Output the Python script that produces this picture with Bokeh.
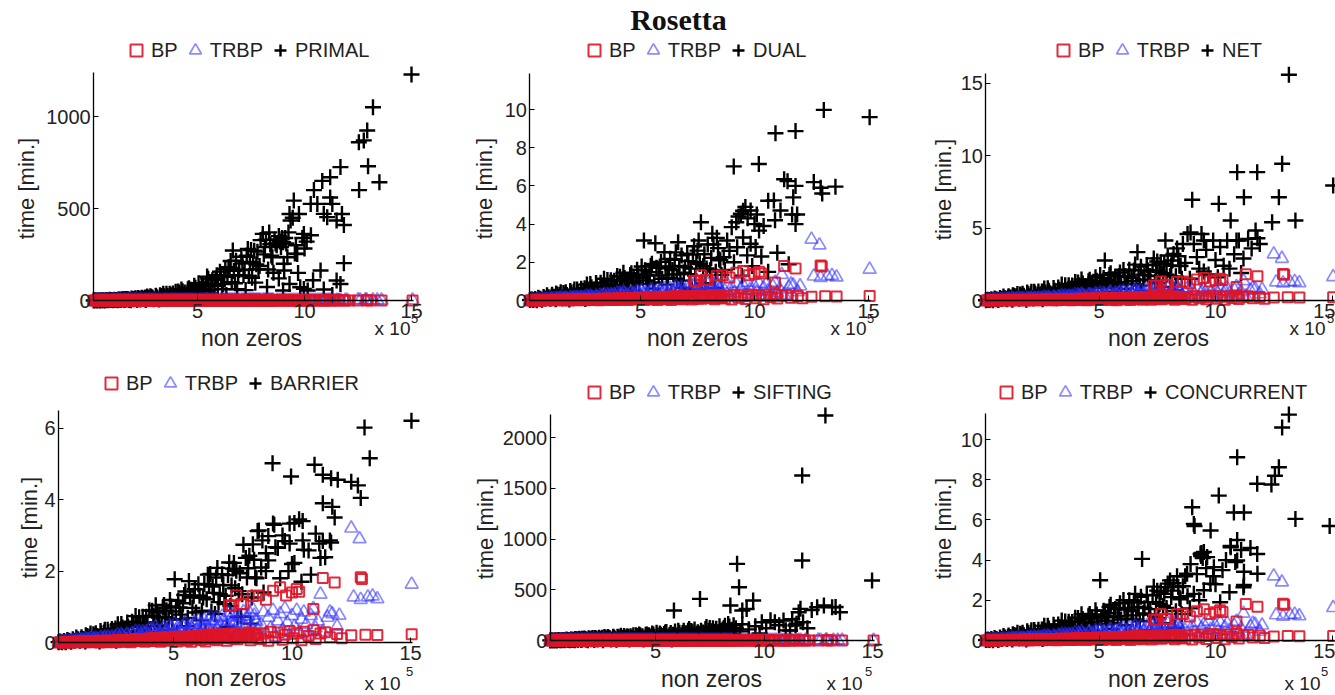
import math
from bokeh.plotting import figure
from bokeh.layouts import column, row
from bokeh.models import FixedTicker, Label, Legend, LegendItem, Range1d
from bokeh.embed import file_html
from bokeh.resources import INLINE

# ---------------- data (non zeros in units of 1e5, times in minutes) ----------------
nnz = [0.15, 0.22, 0.30, 0.38, 0.45, 0.52, 0.60, 0.68, 0.75, 0.82, 0.90, 0.97,
       1.05, 1.12, 1.20, 1.28, 1.35, 1.42, 1.50, 1.58, 1.65, 1.72, 1.80, 1.88, 1.95,
       2.03, 2.10, 2.18, 2.25, 2.33, 2.40, 2.50, 2.58, 2.65, 2.75, 2.85, 2.95,
       3.05, 3.12, 3.20, 3.30, 3.40, 3.50, 3.60, 3.70, 3.80, 3.90, 3.98,
       4.05, 4.15, 4.25, 4.35, 4.45, 4.55, 4.65, 4.75, 4.85, 4.95,
       5.05, 5.15, 5.25, 5.35, 5.45, 5.55, 5.65, 5.75, 5.85, 5.95,
       6.05, 6.15, 6.25, 6.35, 6.45, 6.55, 6.65, 6.75, 6.85, 6.95,
       7.05, 7.15, 7.25, 7.35, 7.45, 7.55, 7.65, 7.75, 7.85, 7.95,
       8.05, 8.15, 8.25, 8.35, 8.45, 8.55,
       1.10, 1.30, 1.45, 1.62, 1.77, 1.92,
       2.07, 2.22, 2.38, 2.55, 2.70, 2.80, 2.90,
       3.08, 3.25, 3.45, 3.55, 3.65, 3.75, 3.85, 3.95,
       4.10, 4.20, 4.30, 4.40, 4.50, 4.60, 4.70, 4.80, 4.90,
       5.10, 5.20, 5.30, 5.40, 5.50, 5.60, 5.70, 5.80, 5.90,
       6.10, 6.20, 6.30, 6.40, 6.50, 6.60, 6.70, 6.80, 6.90,
       7.10, 7.20, 7.30, 7.40, 7.50, 7.60, 7.70, 7.80, 7.90,
       8.10, 8.20, 8.30, 8.40, 8.50]

bp_time = [0.00, 0.01, 0.00, 0.01, 0.00, 0.01, 0.01, 0.00, 0.02, 0.01, 0.03, 0.02,
           0.01, 0.03, 0.02, 0.01, 0.03, 0.02, 0.04, 0.01, 0.03, 0.04, 0.02, 0.00, 0.04,
           0.03, 0.05, 0.01, 0.04, 0.02, 0.05, 0.04, 0.01, 0.07, 0.03, 0.06, 0.02,
           0.07, 0.04, 0.01, 0.06, 0.10, 0.04, 0.06, 0.09, 0.02, 0.06, 0.11,
           0.04, 0.10, 0.13, 0.06, 0.02, 0.12, 0.09, 0.05, 0.14, 0.08,
           0.16, 0.03, 0.12, 0.08, 0.16, 0.05, 0.11, 0.02, 0.15, 0.10,
           0.19, 0.07, 0.15, 0.03, 0.12, 0.23, 0.18, 0.10, 0.06, 0.16,
           0.23, 0.13, 0.05, 1.04, 1.02, 0.11, 1.32, 0.17, 1.08, 1.07,
           0.15, 0.25, 0.06, 1.30, 0.21, 0.13,
           0.02, 0.03, 0.03, 0.04, 0.03, 0.05,
           0.04, 0.05, 0.04, 0.05, 0.05, 0.07, 0.04,
           0.06, 0.08, 0.06, 0.09, 0.04, 0.07, 0.09, 0.04,
           0.11, 0.07, 0.10, 0.09, 0.06, 0.13, 0.11, 0.08, 0.12,
           0.11, 0.14, 0.09, 0.13, 0.17, 0.08, 0.15, 0.12, 0.18,
           0.15, 0.11, 0.19, 0.14, 0.19, 0.10, 0.16, 0.22, 0.13,
           0.19, 0.16, 0.23, 0.12, 0.25, 0.18, 0.09, 0.23, 0.16,
           0.21, 0.28, 0.14, 0.26, 0.20]

trbp_time = [0.01, 0.02, 0.01, 0.02, 0.00, 0.04, 0.02, 0.01, 0.05, 0.03, 0.07, 0.05,
             0.02, 0.08, 0.05, 0.02, 0.08, 0.05, 0.12, 0.03, 0.08, 0.12, 0.06, 0.01, 0.11,
             0.08, 0.15, 0.03, 0.12, 0.06, 0.16, 0.11, 0.02, 0.22, 0.09, 0.18, 0.06,
             0.23, 0.13, 0.04, 0.21, 0.31, 0.11, 0.20, 0.30, 0.07, 0.19, 0.38,
             0.12, 0.31, 0.43, 0.20, 0.07, 0.39, 0.28, 0.14, 0.47, 0.25,
             0.51, 0.10, 0.38, 0.25, 0.51, 0.17, 0.36, 0.06, 0.50, 0.32,
             0.62, 0.24, 0.48, 0.11, 0.40, 0.73, 0.60, 0.30, 0.19, 0.51,
             0.73, 0.41, 0.17, 0.84, 0.59, 0.34, 0.74, 0.53, 0.27, 0.86,
             0.45, 0.73, 0.18, 0.93, 0.61, 0.38,
             0.05, 0.10, 0.08, 0.10, 0.08, 0.14,
             0.12, 0.15, 0.11, 0.16, 0.14, 0.22, 0.13,
             0.18, 0.25, 0.19, 0.30, 0.14, 0.24, 0.30, 0.12,
             0.37, 0.23, 0.34, 0.29, 0.18, 0.41, 0.35, 0.26, 0.39,
             0.33, 0.45, 0.30, 0.42, 0.55, 0.27, 0.48, 0.37, 0.57,
             0.50, 0.34, 0.63, 0.46, 0.62, 0.33, 0.53, 0.69, 0.43,
             0.61, 0.49, 0.71, 0.38, 0.77, 0.56, 0.26, 0.70, 0.49,
             0.64, 0.84, 0.42, 0.76, 0.58]

primal_time = [0.3, 0.8, 0.4, 1.1, 0.2, 2.0, 1.2, 0.5, 2.4, 1.3, 3.6, 2.3,
               1.3, 4.5, 3.1, 0.9, 5.4, 3.3, 8.0, 2.2, 6.0, 8.8, 4.2, 1.1, 8.7,
               6.2, 12.9, 3.0, 11.2, 6.1, 15.6, 11.0, 2.1, 22.4, 9.6, 19.2, 6.8,
               26.2, 15.3, 4.9, 24.2, 36.8, 13.7, 24.7, 36.9, 9.1, 23.9, 47.1,
               15.6, 42.0, 60.0, 28.8, 10.2, 61.2, 45.6, 24.0, 79.8, 44.0,
               93.5, 20.1, 75.3, 51.5, 130.0, 38.6, 81.3, 14.3, 119.6, 78.3,
               156.8, 61.3, 129.5, 29.3, 181.0, 215.0, 272.0, 94.0, 61.3, 165.8,
               238.0, 136.8, 56.5, 280.0, 210.0, 123.8, 270.7, 196.5, 170.0, 328.2,
               362.0, 290.0, 73.0, 370.0, 244.0, 151.0,
               2.9, 6.1, 5.3, 7.6, 6.1, 10.8,
               9.8, 14.0, 10.9, 16.6, 15.1, 23.6, 14.5,
               20.8, 28.5, 22.7, 36.1, 16.9, 28.9, 37.4, 14.7,
               48.6, 31.9, 49.6, 42.9, 28.0, 66.6, 58.5, 45.1, 68.8,
               63.0, 88.4, 61.0, 88.5, 118.8, 59.4, 111.2, 87.6, 137.7,
               127.5, 90.0, 171.0, 130.0, 178.5, 99.0, 161.0, 216.0, 137.5,
               201.8, 166.8, 244.0, 133.2, 274.5, 204.0, 96.9, 265.6, 187.6,
               250.6, 330.0, 168.8, 306.0, 235.0]

dual_time = [0.02, 0.06, 0.03, 0.08, 0.01, 0.15, 0.09, 0.04, 0.18, 0.10, 0.27, 0.17,
             0.09, 0.30, 0.19, 0.06, 0.31, 0.18, 0.43, 0.11, 0.30, 0.43, 0.20, 0.05, 0.40,
             0.28, 0.57, 0.13, 0.46, 0.24, 0.62, 0.43, 0.08, 0.84, 0.36, 0.70, 0.24,
             0.92, 0.52, 0.16, 0.77, 1.14, 0.41, 0.73, 1.06, 0.26, 0.66, 1.28,
             0.41, 1.06, 1.45, 0.67, 0.23, 1.33, 0.97, 0.50, 1.61, 0.87,
             1.78, 3.14, 1.32, 0.87, 1.80, 0.62, 3.00, 0.22, 1.78, 1.14,
             2.53, 0.83, 1.68, 0.37, 1.36, 2.52, 3.05, 1.04, 0.66, 1.74,
             2.45, 1.38, 0.56, 2.84, 2.02, 3.14, 4.10, 1.80, 0.91, 2.93,
             1.58, 3.50, 0.64, 3.28, 2.16, 1.34,
             0.20, 0.36, 0.29, 0.39, 0.29, 0.50,
             0.44, 0.58, 0.43, 0.64, 0.56, 0.86, 0.53,
             0.72, 0.93, 0.69, 1.07, 0.49, 0.82, 1.04, 0.40,
             1.25, 0.79, 1.18, 0.98, 0.62, 1.43, 1.22, 0.92, 1.37,
             1.17, 1.58, 1.05, 1.48, 1.92, 0.94, 1.71, 1.31, 2.02,
             1.76, 1.19, 2.18, 1.60, 2.13, 1.14, 1.81, 2.36, 1.46,
             2.06, 1.67, 2.40, 1.29, 2.61, 1.91, 0.89, 2.42, 1.68,
             2.23, 2.94, 1.51, 2.74, 2.11]

net_time = [0.02, 0.05, 0.03, 0.08, 0.01, 0.14, 0.09, 0.04, 0.17, 0.10, 0.27, 0.16,
            0.09, 0.30, 0.20, 0.06, 0.32, 0.19, 0.45, 0.12, 0.32, 0.47, 0.22, 0.06, 0.44,
            0.30, 0.60, 0.13, 0.48, 0.25, 0.63, 0.43, 0.08, 0.83, 0.35, 0.67, 0.23,
            0.87, 0.50, 0.15, 0.75, 1.11, 0.40, 0.71, 1.05, 0.25, 0.66, 1.28,
            0.41, 1.06, 1.45, 0.67, 0.23, 1.33, 0.97, 0.50, 1.61, 0.87,
            1.77, 0.36, 2.76, 0.86, 1.76, 0.60, 1.22, 0.21, 1.70, 1.09,
            2.11, 0.80, 1.63, 0.36, 1.34, 2.48, 3.34, 1.03, 0.66, 1.74,
            2.46, 1.40, 0.57, 2.91, 2.08, 1.21, 2.63, 1.89, 4.15, 3.11,
            1.68, 2.76, 0.70, 3.60, 2.40, 1.50,
            0.20, 0.37, 0.30, 0.41, 0.32, 0.55,
            0.47, 0.61, 0.44, 0.63, 0.55, 0.84, 0.50,
            0.69, 0.89, 0.68, 1.05, 0.48, 0.81, 1.03, 0.40,
            1.25, 0.79, 1.18, 0.98, 0.62, 1.43, 1.22, 0.92, 1.37,
            1.17, 1.56, 1.04, 1.45, 1.88, 0.91, 1.65, 1.27, 1.94,
            1.69, 1.15, 2.12, 1.56, 2.08, 1.13, 1.79, 2.34, 1.46,
            2.07, 1.69, 2.45, 1.32, 2.70, 1.99, 0.94, 2.54, 1.78,
            2.40, 3.21, 1.67, 3.06, 2.38]

barrier_time = [0.01, 0.03, 0.01, 0.04, 0.01, 0.07, 0.05, 0.02, 0.09, 0.05, 0.14, 0.09,
                0.05, 0.15, 0.10, 0.03, 0.18, 0.10, 0.25, 0.07, 0.18, 0.26, 0.12, 0.03, 0.26,
                0.18, 0.36, 0.08, 0.29, 0.15, 0.38, 0.26, 0.05, 0.51, 0.21, 0.42, 0.15,
                0.56, 0.32, 0.10, 0.49, 0.74, 0.27, 0.49, 0.72, 0.18, 0.46, 0.90,
                0.29, 0.75, 1.04, 0.48, 0.17, 0.97, 0.71, 0.36, 1.19, 0.64,
                1.77, 0.27, 0.98, 0.65, 1.33, 0.46, 1.72, 0.16, 1.31, 0.84,
                1.63, 0.62, 1.26, 0.28, 1.90, 1.92, 1.57, 0.80, 2.09, 1.35,
                1.91, 1.08, 0.44, 2.24, 1.60, 2.23, 2.01, 1.44, 0.73, 2.74,
                2.37, 2.08, 0.53, 2.75, 1.82, 3.12,
                0.10, 0.20, 0.17, 0.23, 0.18, 0.32,
                0.28, 0.36, 0.27, 0.39, 0.34, 0.52, 0.32,
                0.44, 0.58, 0.46, 0.71, 0.33, 0.56, 0.72, 0.28,
                0.89, 0.56, 0.84, 0.71, 0.45, 1.05, 0.90, 0.68, 1.01,
                0.87, 1.17, 0.78, 1.10, 1.43, 0.69, 1.26, 0.97, 1.49,
                1.31, 0.89, 1.64, 1.21, 1.62, 0.87, 1.39, 1.82, 1.13,
                1.61, 1.31, 1.89, 1.02, 2.07, 1.52, 0.71, 1.94, 1.35,
                1.82, 2.43, 1.26, 2.32, 1.80]

sifting_time = [0.8, 2.0, 0.9, 2.7, 0.5, 5.0, 3.0, 1.4, 6.0, 3.3, 9.0, 5.8,
                3.2, 10.6, 7.2, 2.1, 12.2, 7.3, 17.5, 4.7, 12.9, 18.7, 8.8, 2.3, 18.2,
                12.7, 25.2, 5.5, 20.1, 10.5, 26.4, 17.9, 3.4, 34.8, 14.5, 28.3, 9.8,
                36.7, 20.9, 6.5, 31.2, 46.0, 16.6, 29.4, 42.9, 10.4, 26.8, 52.0,
                16.8, 43.5, 60.0, 27.9, 9.6, 56.1, 40.8, 21.0, 68.4, 37.0,
                76.3, 15.8, 56.9, 37.7, 77.7, 26.6, 54.8, 9.4, 296.0, 49.4,
                96.2, 36.3, 74.4, 16.3, 61.2, 113.8, 93.0, 47.5, 30.3, 80.5,
                410.0, 64.4, 26.3, 133.8, 95.4, 55.5, 120.1, 86.3, 43.9, 141.4,
                76.0, 124.0, 31.6, 162.0, 345.0, 67.0,
                6.9, 13.8, 11.7, 16.4, 12.9, 22.6,
                19.5, 25.5, 18.4, 26.6, 23.1, 35.2, 21.2,
                28.8, 37.2, 28.0, 43.4, 19.9, 33.3, 42.2, 16.3,
                51.3, 32.5, 48.8, 41.0, 26.0, 60.3, 51.8, 39.0, 58.4,
                50.4, 68.0, 45.4, 63.8, 83.1, 40.5, 74.0, 57.0, 87.8,
                76.9, 52.5, 96.8, 71.5, 95.6, 51.8, 82.3, 108.0, 67.4,
                95.6, 78.0, 112.6, 60.8, 123.8, 91.0, 42.8, 116.0, 81.1,
                108.9, 144.9, 74.9, 137.6, 106.5]

concurrent_time = [0.02, 0.05, 0.02, 0.07, 0.01, 0.12, 0.08, 0.03, 0.15, 0.08, 0.23, 0.15,
                   0.08, 0.25, 0.17, 0.05, 0.27, 0.16, 0.38, 0.10, 0.27, 0.39, 0.18, 0.05, 0.37,
                   0.25, 0.51, 0.11, 0.41, 0.22, 0.54, 0.37, 0.07, 0.73, 0.31, 0.60, 0.21,
                   0.78, 0.45, 0.14, 0.67, 0.99, 0.36, 0.64, 0.93, 0.23, 0.58, 1.13,
                   0.37, 0.95, 1.31, 0.61, 0.21, 1.23, 0.89, 0.46, 1.50, 0.82,
                   3.00, 0.34, 1.23, 0.81, 1.67, 0.57, 1.16, 0.20, 1.62, 1.04,
                   2.01, 0.76, 1.54, 0.34, 1.25, 2.32, 1.89, 0.96, 4.06, 1.61,
                   2.27, 1.29, 0.53, 2.68, 1.91, 1.11, 2.40, 1.73, 2.65, 2.83,
                   2.99, 2.48, 0.62, 3.20, 2.11, 1.31,
                   0.17, 0.31, 0.25, 0.34, 0.26, 0.46,
                   0.39, 0.52, 0.38, 0.55, 0.49, 0.74, 0.45,
                   0.61, 0.80, 0.60, 0.94, 0.43, 0.72, 0.92, 0.35,
                   1.12, 0.71, 1.07, 0.90, 0.57, 1.32, 1.14, 0.86, 1.29,
                   1.10, 1.48, 0.98, 1.37, 1.78, 0.86, 1.57, 1.21, 1.85,
                   1.61, 1.09, 2.00, 1.47, 1.96, 1.05, 1.67, 2.18, 1.35,
                   1.91, 1.56, 2.25, 1.22, 2.48, 1.82, 0.86, 2.32, 1.62,
                   2.16, 2.85, 1.46, 2.66, 2.05]

# large instances, read per series
bp_tail_nnz = [8.6, 8.7, 8.8, 8.9, 9.0, 9.1, 9.2, 9.3, 9.4, 9.5, 9.6, 9.7, 9.75, 9.9, 10.0,
               10.05, 10.2, 10.2, 10.3, 10.4, 10.5, 10.7, 10.9, 10.9, 11.0, 11.2, 11.3, 11.4,
               11.6, 11.8, 11.9, 12.1, 12.5, 12.9, 12.95, 13.1, 13.6, 15.05]
bp_tail_time = [1.32, 0.10, 0.25, 1.20, 0.05, 0.30, 1.45, 0.15, 0.28, 1.55, 0.08, 0.22, 1.32, 0.32, 1.40,
                0.12, 1.50, 0.26, 1.42, 0.06, 0.30, 0.18, 0.94, 0.34, 0.10, 0.25, 1.81, 0.29,
                0.15, 1.68, 0.24, 0.12, 0.20, 1.83, 1.78, 0.22, 0.21, 0.23]

trbp_tail_nnz = [8.7, 8.8, 8.9, 9.0, 9.1, 9.2, 9.3, 9.4, 9.5, 9.6, 9.7, 9.8, 9.9, 10.0, 10.1,
                 10.2, 10.3, 10.4, 10.5, 10.6, 10.7, 10.8, 10.9, 11.0, 11.1, 11.2, 11.3, 11.5,
                 11.6, 11.7, 11.9, 12.0, 12.5, 12.6, 12.85, 12.9, 13.2, 13.4, 13.6, 15.05]
trbp_tail_time = [0.50, 0.85, 0.25, 0.70, 0.40, 0.90, 0.15, 0.60, 0.80, 0.35, 0.95, 0.55, 0.20, 0.75, 0.45,
                  0.90, 0.30, 0.65, 0.85, 0.50, 0.20, 0.75, 0.95, 0.40, 0.60, 1.35, 0.30, 0.70,
                  0.85, 0.80, 0.45, 0.76, 3.20, 1.27, 2.90, 1.20, 1.27, 1.30, 1.22, 1.63]

primal_tail_nnz = [8.6, 8.7, 8.8, 8.9, 9.0, 9.0, 9.03, 9.05, 9.1, 9.2, 9.25, 9.3, 9.35, 9.45, 9.5,
                   9.55, 9.6, 9.66, 9.74, 9.8, 9.9, 9.97, 9.97, 10.0, 10.1, 10.15, 10.29, 10.3,
                   10.44, 10.6, 10.75, 10.83, 10.9, 11.06, 11.2, 11.2, 11.3, 11.5, 11.5, 11.68,
                   11.68, 11.75, 11.84, 11.84, 12.54, 12.55, 12.77, 12.93, 12.97, 13.2, 13.5, 15.0,
                   8.65, 8.85, 8.95, 9.15, 8.8, 9.3, 9.7, 10.4, 10.9, 11.3]
primal_tail_time = [330, 300, 350, 290, 317, 54, 200, 163, 340, 235, 370, 470, 435, 450, 543,
                    255, 300, 253, 470, 72, 340, 362, 63, 283, 320, 54, 525, 355,
                    600, 525, 163, 650, 471, 453, 670, 560, 525, 435, 109, 725,
                    90, 470, 410, 203, 860, 600, 870, 924, 730, 1050, 643, 1228,
                    310, 320, 340, 310, 120, 90, 150, 110, 60, 30]

dual_tail_nnz = [8.65, 8.7, 8.8, 8.9, 9.0, 9.09, 9.1, 9.24, 9.3, 9.4, 9.45, 9.5, 9.6, 9.68, 9.83,
                 9.83, 9.9, 10.05, 10.19, 10.2, 10.3, 10.4, 10.6, 10.6, 10.85, 10.9, 10.92, 11.0,
                 11.14, 11.3, 11.45, 11.5, 11.65, 11.7, 11.8, 11.8, 11.8, 11.87, 12.6, 12.9,
                 12.97, 13.04, 13.55, 15.05, 9.2, 9.7, 10.0, 9.5, 10.1]
dual_tail_time = [2.27, 1.6, 3.14, 2.6, 3.84, 7.02, 2.0, 2.79, 4.4, 4.54, 1.3, 3.3, 4.9, 2.36, 4.71,
                  2.97, 1.8, 2.8, 7.15, 3.66, 2.3, 3.9, 5.22, 1.5, 5.24, 4.2, 8.76, 2.5,
                  4.71, 6.35, 6.25, 1.9, 4.5, 5.4, 8.87, 6.0, 4.0, 4.5, 6.2, 5.9,
                  5.6, 9.98, 5.96, 9.6, 4.1, 4.3, 4.0, 4.7, 4.5]

net_tail_nnz = [8.6, 8.7, 8.8, 8.9, 8.93, 9.0, 9.07, 9.2, 9.3, 9.4, 9.5, 9.5, 9.6, 9.7, 9.9,
                10.0, 10.1, 10.14, 10.2, 10.35, 10.5, 10.6, 10.65, 10.8, 10.9, 10.93, 11.0, 11.1,
                11.2, 11.22, 11.4, 11.55, 11.72, 11.79, 11.8, 11.9, 12.43, 12.72, 12.86, 13.15,
                13.43, 15.05]
net_tail_time = [3.9, 2.6, 4.6, 1.5, 4.7, 6.96, 3.9, 3.0, 2.2, 4.6, 4.15, 2.0, 3.5, 1.8, 4.15,
                 2.8, 1.6, 6.68, 3.7, 2.4, 4.15, 2.2, 5.53, 3.2, 4.15, 8.87, 4.15, 1.9,
                 2.9, 7.14, 4.26, 3.6, 4.84, 8.87, 4.3, 3.9, 5.41, 7.14, 9.45, 15.6,
                 5.53, 7.95]

barrier_tail_nnz = [8.6, 8.7, 8.75, 8.8, 8.9, 8.9, 9.0, 9.0, 9.18, 9.2, 9.25, 9.3, 9.4, 9.5, 9.6,
                    9.7, 9.85, 9.9, 9.9, 9.96, 10.0, 10.1, 10.1, 10.3, 10.4, 10.45, 10.45, 10.5,
                    10.7, 10.8, 10.95, 11.0, 11.15, 11.2, 11.3, 11.3, 11.3, 11.4, 11.6, 11.65,
                    11.65, 11.7, 11.8, 11.93, 12.5, 12.78, 12.9, 13.06, 13.28, 15.04]
barrier_tail_time = [3.14, 2.1, 2.86, 1.4, 2.5, 2.0, 2.98, 2.3, 5.02, 3.33, 3.3, 2.67, 2.65, 1.8, 3.0,
                     2.84, 2.0, 3.33, 2.77, 4.65, 2.2, 3.35, 2.23, 3.45, 1.7, 3.4, 2.86, 2.6,
                     2.58, 1.9, 4.98, 3.05, 2.77, 2.37, 4.7, 3.9, 2.84, 2.39, 2.86, 4.6,
                     2.8, 3.8, 3.5, 4.56, 4.5, 4.4, 4.05, 6.02, 5.16, 6.21]

sifting_tail_nnz = [8.6, 8.7, 8.76, 8.85, 8.9, 9.0, 9.0, 9.2, 9.3, 9.5, 9.6, 9.8, 9.9, 10.1, 10.3,
                    10.5, 10.7, 10.9, 11.0, 11.2, 11.3, 11.45, 11.5, 11.6, 11.68, 11.76, 11.76, 11.8,
                    12.0, 12.2, 12.45, 12.76, 12.83, 13.14, 13.3, 13.5, 14.98]
sifting_tail_time = [150, 120, 755, 525, 90, 296, 160, 310, 110, 394, 140, 70, 180, 120, 200,
                     181, 150, 197, 100, 98, 210, 148, 164, 279, 312, 1626, 788, 180,
                     120, 300, 328, 345, 2217, 328, 330, 279, 591]

concurrent_tail_nnz = [8.6, 8.7, 8.78, 8.8, 8.9, 8.93, 9.0, 9.07, 9.07, 9.2, 9.3, 9.36, 9.45, 9.5, 9.5,
                       9.6, 9.64, 9.78, 9.79, 9.9, 9.93, 10.0, 10.14, 10.2, 10.3, 10.45, 10.6, 10.65,
                       10.65, 10.79, 10.85, 10.93, 10.93, 10.93, 11.1, 11.2, 11.22, 11.22, 11.22, 11.5,
                       11.79, 11.79, 11.8, 12.4, 12.55, 12.72, 12.86, 13.15, 13.43, 14.9, 9.4, 9.38, 9.1]
concurrent_tail_time = [2.7, 3.2, 3.32, 2.2, 1.6, 3.8, 6.63, 5.8, 2.32, 3.3, 2.0, 4.31, 4.1, 4.4, 2.5,
                        3.6, 4.15, 2.82, 5.47, 3.2, 3.65, 2.8, 7.21, 1.9, 3.5, 4.0, 2.4, 4.7,
                        4.64, 6.37, 3.9, 9.12, 5.0, 3.98, 4.5, 2.65, 6.37, 3.42, 2.76, 4.6,
                        7.8, 4.3, 3.32, 7.76, 8.2, 8.62, 10.6, 11.24, 6.05, 5.7, 4.35, 4.2, 5.7]

solver_names = ["PRIMAL", "DUAL", "NET", "BARRIER", "SIFTING", "CONCURRENT"]
solver_times = [primal_time, dual_time, net_time, barrier_time, sifting_time, concurrent_time]
solver_tail_nnz = [primal_tail_nnz, dual_tail_nnz, net_tail_nnz, barrier_tail_nnz,
                   sifting_tail_nnz, concurrent_tail_nnz]
solver_tail_time = [primal_tail_time, dual_tail_time, net_tail_time, barrier_tail_time,
                    sifting_tail_time, concurrent_tail_time]
y_ticks = [[0, 500, 1000], [0, 2, 4, 6, 8, 10], [0, 5, 10, 15],
           [0, 2, 4, 6], [0, 500, 1000, 1500, 2000], [0, 2, 4, 6, 8, 10]]
y_axis_max = [1239, 11.9, 15.7, 6.5, 2226, 11.3]
x_ticks = [5, 10, 15]
x_axis_min, x_axis_max = 0.15, 15.1

for arr in solver_times + [bp_time, trbp_time]:
    assert len(arr) == len(nnz), len(arr)
for a, b in zip(solver_tail_nnz + [bp_tail_nnz, trbp_tail_nnz],
                solver_tail_time + [bp_tail_time, trbp_tail_time]):
    assert len(a) == len(b), (len(a), len(b))

# ---------------- layout geometry (page pixels; page has no body margin) ----------------
GEOM = [
    dict(fx=0, fy=0, W=445, H=350, x0=90, sx=21.4, y0=300, sy=0.184,
         ylab=(26, 188), xlab=(251, 337), x10=(410, 328), sup=(414, 318), leg=(121, 65)),
    dict(fx=445, fy=0, W=445, H=350, x0=526, sx=22.8, y0=300, sy=19.1,
         ylab=(484, 188), xlab=(697, 337), x10=(866, 328), sup=(870, 318), leg=(579, 65)),
    dict(fx=890, fy=0, W=445, H=350, x0=982, sx=23.3, y0=300, sy=14.47,
         ylab=(943, 189), xlab=(1158, 337), x10=(1325, 328), sup=(1330, 318), leg=(1048, 65)),
    dict(fx=0, fy=350, W=445, H=345, x0=54.5, sx=23.7, y0=642, sy=35.7,
         ylab=(29, 527), xlab=(235, 677), x10=(400, 683), sup=(409, 671), leg=(96, 398)),
    dict(fx=445, fy=350, W=445, H=345, x0=546.5, sx=21.7, y0=640, sy=0.1015,
         ylab=(485, 528), xlab=(711, 678), x10=(862, 683), sup=(868, 671), leg=(579, 407)),
    dict(fx=890, fy=350, W=445, H=345, x0=982, sx=23.3, y0=640, sy=20.1,
         ylab=(943, 528), xlab=(1158, 678), x10=(1320, 683), sup=(1324, 671), leg=(991, 407)),
]

FONT = "Liberation Sans"
TXT = "#222222"
BP_COLOR = "#dd1428"
TRBP_COLOR = "#2b2bff"


def dx(g, px):
    return (px - g["x0"]) / g["sx"]


def dy(g, py):
    return (g["y0"] - py) / g["sy"]


def make_panel(i):
    g = GEOM[i]
    p = figure(width=g["W"], height=g["H"],
               x_range=Range1d(dx(g, g["fx"]), dx(g, g["fx"] + g["W"])),
               y_range=Range1d(dy(g, g["fy"] + g["H"]), dy(g, g["fy"])),
               output_backend="svg", toolbar_location=None,
               min_border_left=0, min_border_right=0, min_border_top=0, min_border_bottom=0)
    p.outline_line_color = None
    p.xgrid.visible = False
    p.ygrid.visible = False
    p.background_fill_color = "white"
    p.border_fill_color = "white"

    r_s = p.scatter(nnz + solver_tail_nnz[i], solver_times[i] + solver_tail_time[i], marker="cross",
                    size=16, line_color="black", line_width=2.4)
    r_t = p.scatter(nnz + trbp_tail_nnz, trbp_time + trbp_tail_time, marker="triangle", size=13,
                    fill_color=None, line_color=TRBP_COLOR, line_alpha=0.55, line_width=1.7)
    r_b = p.scatter(nnz + bp_tail_nnz, bp_time + bp_tail_time, marker="square", size=10,
                    fill_color=None, line_color=BP_COLOR, line_alpha=0.9, line_width=2)

    legend = Legend(items=[LegendItem(label="BP", renderers=[r_b]),
                           LegendItem(label="TRBP", renderers=[r_t]),
                           LegendItem(label=solver_names[i], renderers=[r_s])],
                    orientation="horizontal",
                    location=(g["leg"][0] - g["fx"], g["fy"] + g["H"] - g["leg"][1]),
                    border_line_color=None, background_fill_alpha=0,
                    glyph_width=30, glyph_height=30, label_height=30,
                    label_standoff=0, spacing=2, padding=0, margin=0,
                    label_text_font=FONT, label_text_font_size="20px", label_text_color=TXT)
    p.add_layout(legend)

    p.xaxis.fixed_location = 0
    p.xaxis.bounds = (x_axis_min, x_axis_max)
    p.xaxis.ticker = FixedTicker(ticks=x_ticks)
    p.yaxis.fixed_location = x_axis_min
    p.yaxis.bounds = (0, y_axis_max[i])
    p.yaxis.ticker = FixedTicker(ticks=y_ticks[i])
    for ax in (p.xaxis, p.yaxis):
        ax.axis_line_color = "black"
        ax.axis_line_width = 1.3
        ax.major_tick_in = 5
        ax.major_tick_out = 0
        ax.major_tick_line_color = "black"
        ax.minor_tick_line_color = None
        ax.major_label_text_font = FONT
        ax.major_label_text_font_size = "20px"
        ax.major_label_text_color = TXT
        ax.major_label_standoff = 3

    p.add_layout(Label(x=dx(g, g["ylab"][0]), y=dy(g, g["ylab"][1]), text="time [min.]",
                       angle=math.pi / 2, text_align="center", text_baseline="middle",
                       text_font=FONT, text_font_size="22px", text_color=TXT))
    p.add_layout(Label(x=dx(g, g["xlab"][0]), y=dy(g, g["xlab"][1]), text="non zeros",
                       text_align="center", text_baseline="middle",
                       text_font=FONT, text_font_size="23px", text_color=TXT))
    p.add_layout(Label(x=dx(g, g["x10"][0]), y=dy(g, g["x10"][1]), text="x 10",
                       text_align="right", text_baseline="middle",
                       text_font=FONT, text_font_size="19px", text_color=TXT))
    p.add_layout(Label(x=dx(g, g["sup"][0]), y=dy(g, g["sup"][1]), text="5",
                       text_align="center", text_baseline="middle",
                       text_font=FONT, text_font_size="13px", text_color=TXT))
    if i == 1:
        p.add_layout(Label(x=dx(g, 678), y=dy(g, 19), text="Rosetta",
                           text_align="center", text_baseline="middle",
                           text_font="Liberation Serif", text_font_style="bold",
                           text_font_size="30px", text_color="#111111"))
    return p


figs = [make_panel(i) for i in range(6)]
layout = column(row(figs[0], figs[1], figs[2], spacing=0),
                row(figs[3], figs[4], figs[5], spacing=0), spacing=0)

open("out.html", "w").write(file_html(layout, INLINE))
